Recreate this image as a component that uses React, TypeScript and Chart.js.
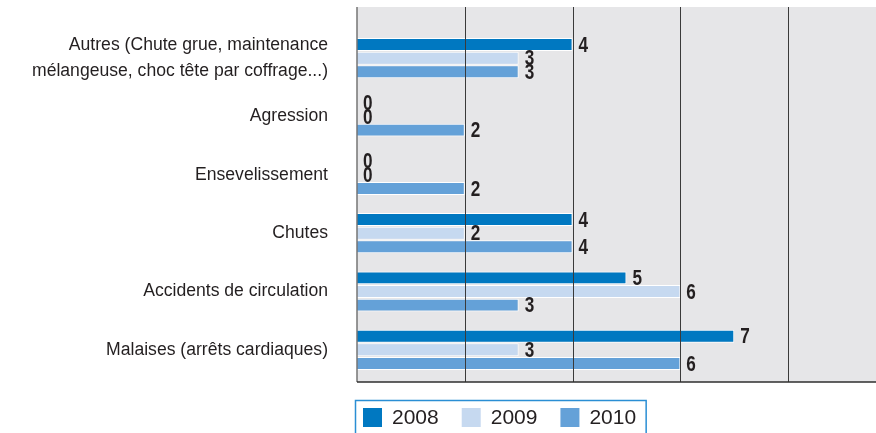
import React, { useEffect, useRef } from "react";
import { Chart, registerables } from "chart.js";

Chart.register(...registerables);

const categories: (string | string[])[] = [
  ["Autres (Chute grue, maintenance", "mélangeuse, choc tête par coffrage...)"],
  "Agression",
  "Ensevelissement",
  "Chutes",
  "Accidents de circulation",
  "Malaises (arrêts cardiaques)",
];
const seriesNames = ["2008", "2009", "2010"];
const values2008 = [4, 0, 0, 4, 5, 7];
const values2009 = [3, 0, 0, 2, 6, 3];
const values2010 = [3, 2, 2, 4, 3, 6];
const gridValues = [2, 4, 6, 8];
const colors = ["#0078c1", "#c6d9f0", "#64a1d8"];

const TEXT = "#231f20";
const LABEL_FONT = "'Liberation Sans', Arial, sans-serif";
const VALUE_FONT = "bold 22px 'Liberation Sans', Arial, sans-serif";

const framePlugin = {
  id: "frame",
  beforeDatasetsDraw(chart: any) {
    const { ctx, chartArea } = chart;
    ctx.save();
    ctx.fillStyle = "#e6e6e8";
    const top = chartArea.top - 22;
    const bottom = chartArea.bottom + 3;
    ctx.fillRect(chartArea.left, top, chartArea.right - chartArea.left, bottom - top);
    ctx.restore();
  },
  afterDatasetsDraw(chart: any) {
    const { ctx, chartArea, scales } = chart;
    const top = chartArea.top - 22;
    const bottom = chartArea.bottom + 3;
    ctx.save();
    ctx.strokeStyle = "#3a3a3a";
    ctx.lineWidth = 1;
    gridValues.forEach((v) => {
      const x = Math.round(scales.x.getPixelForValue(v)) + 0.5;
      ctx.beginPath();
      ctx.moveTo(x, top);
      ctx.lineTo(x, bottom);
      ctx.stroke();
    });
    ctx.strokeStyle = "#757575";
    ctx.lineWidth = 1.5;
    ctx.beginPath();
    ctx.moveTo(chartArea.left, top);
    ctx.lineTo(chartArea.left, bottom);
    ctx.stroke();
    ctx.strokeStyle = "#2e2e2e";
    ctx.lineWidth = 1.5;
    ctx.beginPath();
    ctx.moveTo(chartArea.left, bottom);
    ctx.lineTo(chartArea.right, bottom);
    ctx.stroke();

    ctx.font = VALUE_FONT;
    ctx.fillStyle = TEXT;
    ctx.textAlign = "left";
    ctx.textBaseline = "middle";
    chart.data.datasets.forEach((ds: any, i: number) => {
      const meta = chart.getDatasetMeta(i);
      meta.data.forEach((bar: any, j: number) => {
        ctx.save();
        ctx.translate(bar.x + 6, bar.y + 1);
        ctx.scale(0.78, 1);
        ctx.fillText(String(ds.data[j]), 0, 0);
        ctx.restore();
      });
    });
    ctx.restore();
  },
  afterDraw(chart: any) {
    const { ctx } = chart;
    ctx.save();
    ctx.font = `21px ${LABEL_FONT}`;
    ctx.textBaseline = "middle";
    ctx.textAlign = "left";
    let x = 363;
    const y = 408;
    const size = 19;
    chart.data.datasets.forEach((ds: any, i: number) => {
      ctx.fillStyle = ds.backgroundColor;
      ctx.fillRect(x, y, size, size);
      const tx = x + size + 10;
      ctx.fillStyle = TEXT;
      ctx.fillText(ds.label, tx, y + size / 2 + 1);
      const w = ctx.measureText(ds.label).width;
      x = tx + w + (i < chart.data.datasets.length - 1 ? 23 : 0);
    });
    ctx.strokeStyle = "#2a8ed4";
    ctx.lineWidth = 1.5;
    ctx.strokeRect(355.5, 400.5, x + 10 - 355.5, 40);
    ctx.restore();
  },
};

export default function App() {
  const ref = useRef<HTMLCanvasElement | null>(null);

  useEffect(() => {
    document.body.style.margin = "0";
    const canvas = ref.current;
    if (!canvas) return;
    const data = [values2008, values2009, values2010];
    const chart = new Chart(canvas, {
      type: "bar",
      data: {
        labels: categories,
        datasets: seriesNames.map((name, i) => ({
          label: name,
          data: data[i],
          backgroundColor: colors[i],
          borderColor: "#ffffff",
          borderWidth: 1,
          categoryPercentage: 0.7,
          barPercentage: 0.95,
        })),
      },
      options: {
        indexAxis: "y",
        animation: false,
        responsive: false,
        maintainAspectRatio: false,
        layout: { padding: { top: 29, bottom: 54, left: 0, right: 0 } },
        plugins: {
          legend: { display: false },
          tooltip: { enabled: false },
        },
        scales: {
          x: {
            display: false,
            min: 0,
            max: 9.63,
          },
          y: {
            grid: { display: false, drawTicks: false },
            border: { display: false },
            afterFit: (scale: any) => {
              scale.width = 357;
              scale.paddingTop = 0;
              scale.paddingBottom = 0;
            },
            ticks: {
              autoSkip: false,
              padding: 29,
              color: TEXT,
              font: { family: LABEL_FONT, size: 17.6, lineHeight: 1.5 },
            },
          },
        },
      },
      plugins: [framePlugin],
    } as any);
    return () => chart.destroy();
  }, []);

  return (
    <div style={{ width: 876, height: 433, position: "relative" }}>
      <canvas ref={ref} width={876} height={433} style={{ display: "block" }} />
    </div>
  );
}
